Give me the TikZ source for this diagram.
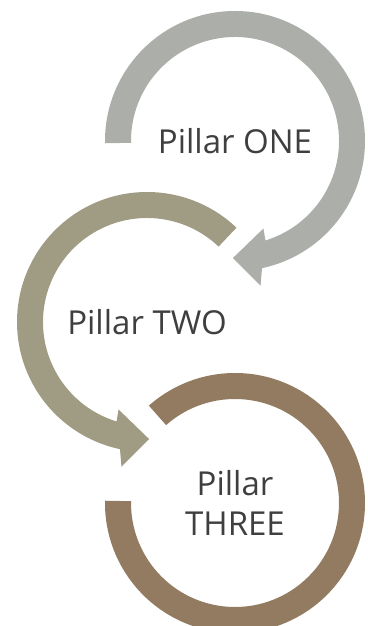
\documentclass[tikz,border=0pt]{standalone}
\usepackage{fontspec}
\setmainfont{Open Sans}
\usepackage{tikz}
\usetikzlibrary{calc}
\definecolor{pone}{HTML}{ACAEA9}
\definecolor{ptwo}{HTML}{A09C84}
\definecolor{pthree}{HTML}{927B60}
\definecolor{ptxt}{HTML}{3F3F3F}
\tikzset{
  ring/.style={draw=none},
  lbl/.style={font=\fontsize{33}{40}\selectfont,text=ptxt,align=center,inner sep=0pt},
}

\begin{document}
\begin{tikzpicture}[x=1pt,y=1pt]
\useasboundingbox (0,0) rectangle (367,626);
\clip (0,0) rectangle (367,626);
\coordinate (c1) at (235,485);
\coordinate (c2) at (147,304);
\coordinate (c3) at (235,123);
% pillar one: clockwise arrow
\fill[ring,pone] ($(c1)+(181:104)$) -- ($(c1)+(181:130)$) arc[start angle=181,end angle=-78,radius=130]
  -- ($(c1)+(-80:147)$) -- ($(c1)+(-91:117)$) -- ($(c1)+(-72:92)$)
  -- ($(c1)+(-73:104)$) arc[start angle=-73,end angle=181,radius=104] -- cycle;
% pillar two: counter-clockwise arrow
\fill[ring,ptwo] ($(c2)+(46.5:104)$) -- ($(c2)+(46.5:130)$) arc[start angle=46.5,end angle=258,radius=130]
  -- ($(c2)+(260:147)$) -- ($(c2)+(271:117)$) -- ($(c2)+(252:92)$)
  -- ($(c2)+(253:104)$) arc[start angle=253,end angle=46.5,radius=104] -- cycle;
% pillar three: open ring
\fill[ring,pthree] ($(c3)+(179:104)$) -- ($(c3)+(179:130)$) arc[start angle=179,end angle=491.5,radius=130]
  -- ($(c3)+(491.5:104)$) arc[start angle=491.5,end angle=179,radius=104] -- cycle;
\node[lbl] (one) at (c1) {Pillar ONE};
\node[lbl] (two) at (c2) {Pillar TWO};
\node[lbl] (three) at (c3) {Pillar\\THREE};
\end{tikzpicture}
\end{document}
